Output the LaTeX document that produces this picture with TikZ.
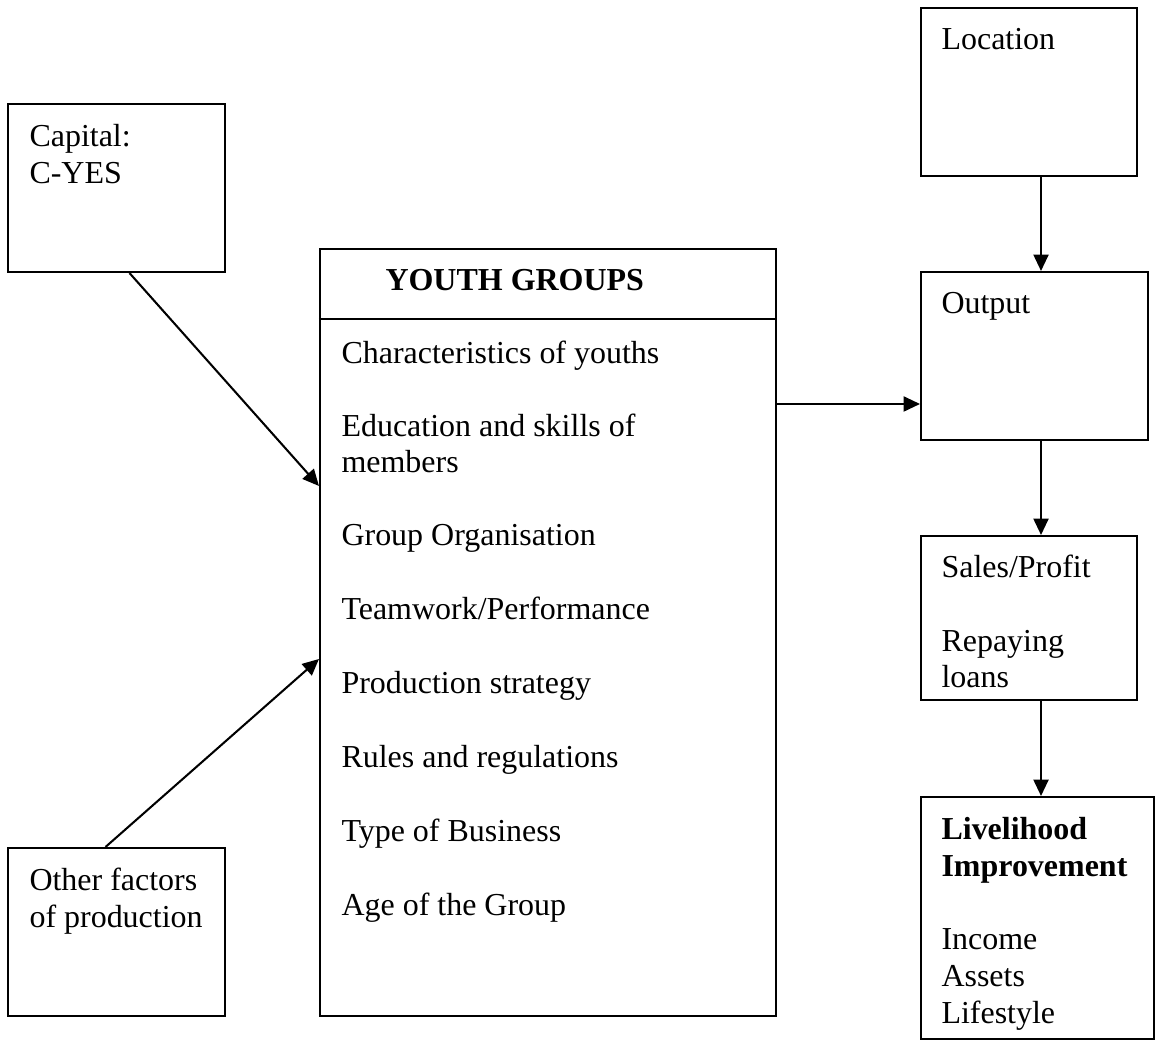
\documentclass[tikz,border=0pt]{standalone}
\usepackage{fontspec}
\setmainfont{Liberation Serif}
\usetikzlibrary{arrows.meta,calc,fit}
\newcommand{\boxlines}[1]{\begin{tabular}[t]{@{}l@{}}#1\end{tabular}}

\begin{document}
\begin{tikzpicture}[x=0.01286cm,y=-0.01286cm,
  box/.style={draw,line width=0.75pt,inner sep=0pt},
  txt/.style={inner sep=0pt,anchor=base west,font=\fontsize{11.7}{13.4}\selectfont},
  head/.style={txt,font=\fontsize{11.7}{13.4}\selectfont\bfseries},
  link/.style={line width=0.75pt,-{Triangle[length=6pt,width=5.5pt]}}]
  \useasboundingbox (0,0) rectangle (1156,1040);

  % boxes
  \node[box,fit={(8,104) (225,272)}] (cap) {};
  \node[box,fit={(8,848) (225,1016)}] (oth) {};
  \node[box,fit={(320,249) (776,1016)}] (yg) {};
  \node[box,fit={(921,8) (1137,176)}] (loc) {};
  \node[box,fit={(921,272) (1148,440)}] (out) {};
  \node[box,fit={(921,536) (1137,700)}] (sal) {};
  \node[box,fit={(921,797) (1154,1039)}] (liv) {};

  % texts
  \node[txt] at ($(cap.north west)+(22,44)$) {\boxlines{Capital:\\C-YES}};
  \node[txt] at ($(oth.north west)+(22,44)$) {\boxlines{Other factors\\of production}};
  \node[txt] at ($(loc.north west)+(21,43)$) {Location};
  \node[txt] at ($(out.north west)+(21,43)$) {Output};
  \node[txt] at ($(sal.north west)+(21,43)$) {\boxlines{Sales/Profit\\[13.4pt]Repaying\\loans}};
  \node[txt] at ($(liv.north west)+(21,44)$) {\boxlines{\textbf{Livelihood}\\\textbf{Improvement}\\[13.4pt]Income\\Assets\\Lifestyle}};

  % youth groups box
  \draw[line width=0.75pt] ($(yg.north west)+(0,71)$) -- ($(yg.north east)+(0,71)$);
  \node[head] at ($(yg.north west)+(66,43)$) {YOUTH GROUPS};
  \foreach \dy/\lbl in {116/Characteristics of youths, 189/Education and skills of,
      225/members, 298/Group Organisation, 372/{Teamwork/Performance},
      446/Production strategy, 520/Rules and regulations, 594/Type of Business,
      668/Age of the Group}
    \node[txt] at ($(yg.north west)+(22,\dy)$) {\lbl};

  % arrows
  \coordinate (axis) at (1041,0);
  \coordinate (yo) at ($(yg.north east)+(0,156)$);
  \draw[link] ($(cap.south)+(13,0)$) -- ($(yg.north west)+(0,238)$);
  \draw[link] ($(oth.north)+(-11,0)$) -- ($(yg.north west)+(0,411)$);
  \draw[link] (yo) -- (yo -| out.west);
  \draw[link] (loc.south -| axis) -- (out.north -| axis);
  \draw[link] (out.south -| axis) -- (sal.north -| axis);
  \draw[link] (sal.south -| axis) -- (liv.north -| axis);
\end{tikzpicture}
\end{document}
